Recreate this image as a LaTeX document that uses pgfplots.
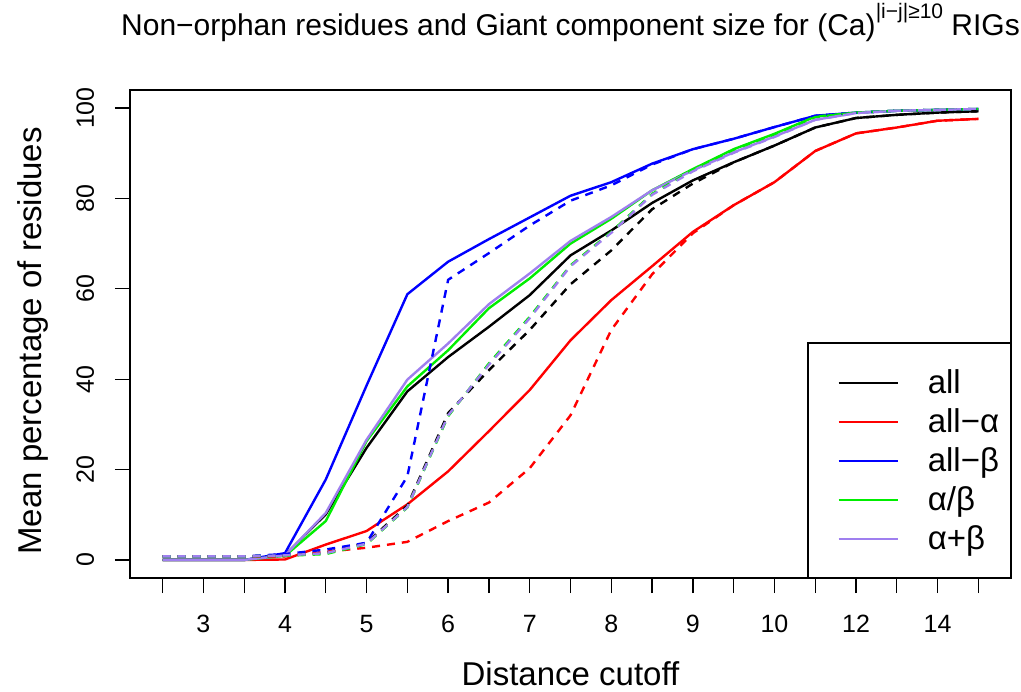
\documentclass[border=0pt]{standalone}
\usepackage{fontspec}
\setmainfont{Liberation Sans}
\usepackage{pgfplots}
\pgfplotsset{compat=1.18}
\usepackage{pgfplotstable}
\definecolor{rgreen}{HTML}{00EE00}
\definecolor{rpurple}{HTML}{9F7FEF}
\definecolor{rred}{HTML}{FF0000}
\definecolor{rblue}{HTML}{0000FF}

% i: position index (2.5,3,...,10,11,...,15)
% all alla allb ab apb : non-orphan residues ; g* : giant component
\pgfplotstableread{
i  all  alla allb ab   apb  gall galla gallb gab  gapb
0  0    0    0    0    0    0.8  0.8   0.8   0.8  0.8
1  0    0    0    0    0    0.8  0.8   0.8   0.8  0.8
2  0    0    0    0    0    0.8  0.8   0.8   0.8  0.8
3  1.1  0.1  1.5  0.9  1.0  0.9  0.8   1.3   0.9  1.0
4  10.1 3.4  17.8 8.6  10.4 1.6  1.8   2.3   1.3  1.5
5  24.8 6.4  38.6 26.3 26.6 3.8  2.7   3.8   3.5  3.6
6  37.3 12.3 58.8 38.4 39.9 12.0 4.0   18.5  11.6 11.7
7  44.9 19.6 66.0 46.4 47.9 32.5 8.6   62.0  31.8 32.0
8  51.6 28.5 71.0 55.7 56.6 42.0 12.7  67.9  43.5 43.2
9  58.6 37.6 75.8 62.3 63.4 50.9 20.3  74.0  53.8 53.5
10 67.4 48.6 80.6 70.0 70.6 61.0 32.0  79.5  65.2 65.0
11 72.9 57.5 83.6 75.5 75.9 68.5 50.9  82.9  72.6 72.4
12 79.0 65.0 87.7 81.8 81.8 77.6 63.2  87.5  81.0 80.8
13 84.0 72.6 90.9 86.5 86.2 83.3 72.3  90.9  86.3 86.0
14 88.0 78.5 93.2 90.9 90.2 88.0 78.5  93.2  90.8 90.1
15 91.7 83.6 95.8 94.3 93.7 91.7 83.6  95.8  94.2 93.6
16 95.7 90.5 98.3 98.1 97.4 95.7 90.5  98.3  98.0 97.4
17 97.8 94.4 99.0 99.0 98.9 97.8 94.4  99.0  99.0 98.9
18 98.5 95.7 99.4 99.4 99.4 98.5 95.7  99.4  99.4 99.4
19 99.0 97.2 99.6 99.6 99.6 99.0 97.2  99.6  99.6 99.6
20 99.3 97.6 99.8 99.8 99.8 99.3 97.6  99.8  99.8 99.8
}\data

\begin{document}
\begin{tikzpicture}
\begin{axis}[
  at={(0pt,0pt)}, anchor=south west,
  scale only axis, width=440.5pt, height=244pt,
  xmin=-0.8, xmax=20.8, ymin=-4, ymax=104,
  clip=false,
  axis line style={line width=0.65pt},
  every tick/.style={black, line width=0.65pt},
  tick align=outside, major tick length=7.5pt,
  xtick pos=left, ytick pos=left,
  xtick={0,...,20},
  xticklabels={{},3,{},4,{},5,{},6,{},7,{},8,{},9,{},10,{},12,{},14,{}},
  ytick={0,20,40,60,80,100},
  /pgf/number format/assume math mode=true,
  tick label style={font=\fontsize{12.5}{14}\selectfont},
  xticklabel style={anchor=base, yshift=-19.5pt},
  yticklabel style={xshift=-10.5pt, rotate=90, anchor=base},
  title={Non−orphan residues and Giant component size for (Ca)\raisebox{0.55em}{\fontsize{10.5}{12}\selectfont |i−j|≥10} RIGs},
  title style={at={(axis description cs:0.5,1.0881)}, anchor=base, font=\fontsize{15}{18}\selectfont},
  xlabel={Distance cutoff},
  xlabel style={at={(axis description cs:0.5,-0.2203)}, anchor=base, font=\fontsize{16.5}{19}\selectfont},
  ylabel={Mean percentage of residues},
  ylabel style={at={(axis description cs:-0.0999,0.486)}, anchor=base, font=\fontsize{16.5}{19}\selectfont},
  legend cell align=left,
  legend image code/.code={\draw[#1] (0pt,0pt) -- (29.5pt,0pt);},
  legend style={at={(axis description cs:0.8025,0.2398)}, anchor=west, draw=none, fill=none,
    inner sep=0pt, column sep=14.5pt, row sep=0pt,
    nodes={inner sep=0pt, minimum height=19.5pt},
    font=\fontsize{16.5}{19}\selectfont},
  every axis plot/.append style={line width=1.2pt, line join=round},
]
\draw[line width=0.65pt, fill=white] (axis description cs:0.7696,0) rectangle (axis description cs:1,0.4816);
\addplot[black] table[x=i,y=all] {\data};
\addplot[rred] table[x=i,y=alla] {\data};
\addplot[rblue] table[x=i,y=allb] {\data};
\addplot[rgreen] table[x=i,y=ab] {\data};
\addplot[rpurple] table[x=i,y=apb] {\data};
\addplot[black, dash pattern=on 4pt off 3.5pt, forget plot] table[x=i,y=gall] {\data};
\addplot[rred, dash pattern=on 4pt off 3.5pt, forget plot] table[x=i,y=galla] {\data};
\addplot[rblue, dash pattern=on 4pt off 3.5pt, forget plot] table[x=i,y=gallb] {\data};
\addplot[rgreen, dash pattern=on 4pt off 3.5pt, forget plot] table[x=i,y=gab] {\data};
\addplot[rpurple, dash pattern=on 4pt off 3.5pt, forget plot] table[x=i,y=gapb] {\data};
\legend{all, all−α, all−β, α/β, α+β}
\end{axis}
\pgfresetboundingbox
\path[use as bounding box] (-65pt,-56.5pt) rectangle (445.5pt,289pt);
\end{tikzpicture}
\end{document}
